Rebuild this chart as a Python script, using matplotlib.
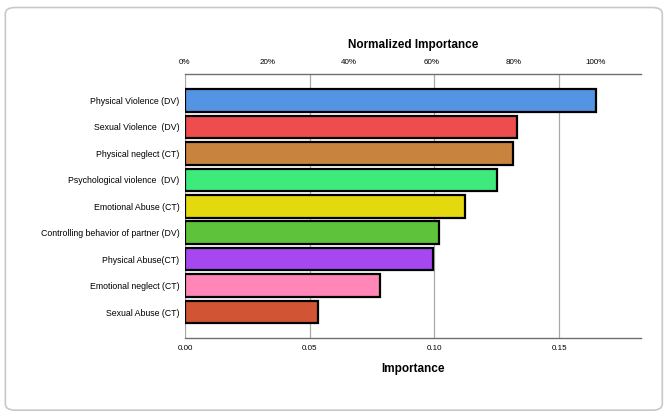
import matplotlib
matplotlib.use("Agg")
import matplotlib.pyplot as plt
from matplotlib.patches import FancyBboxPatch

categories = ["Physical Violence (DV)", "Sexual Violence  (DV)", "Physical neglect (CT)",
              "Psychological violence  (DV)", "Emotional Abuse (CT)",
              "Controlling behavior of partner (DV)", "Physical Abuse(CT)",
              "Emotional neglect (CT)", "Sexual Abuse (CT)"]
importance = [0.1647, 0.1332, 0.1315, 0.1251, 0.1124, 0.1019, 0.0995, 0.0781, 0.0532]
colors = ["#5394E3", "#EF4C4E", "#C8843E", "#3EEA7C", "#E4D80E", "#5EC23A",
          "#A747F0", "#FF86B7", "#D15535"]
bottom_ticks = [0.00, 0.05, 0.10, 0.15]
top_ticks = [0, 20, 40, 60, 80, 100]

plt.rcParams['font.family'] = ['Liberation Sans', 'DejaVu Sans']

fig = plt.figure(figsize=(6.69, 4.16), dpi=100)
border = FancyBboxPatch((0.008, 0.014), 0.982, 0.968, boxstyle="round,pad=0,rounding_size=0.015",
                        transform=fig.transFigure, facecolor="white", edgecolor="#c8c8c8",
                        linewidth=1.2, zorder=-5)
fig.patches.append(border)

ax = fig.add_axes([0.2765, 0.1875, 0.6815, 0.6346])
ax.set_facecolor("none")
y = list(range(len(categories)))
ax.barh(y, importance, height=0.85, color=colors, edgecolor="black", linewidth=1.6, zorder=3)
ax.set_ylim(len(categories) - 0.02, -1.0)
ax.set_xlim(0, 0.1828)
ax.set_yticks(y)
ax.set_yticklabels(categories, fontsize=6.3)
ax.set_xticks(bottom_ticks)
ax.set_xticklabels([f"{t:.2f}" for t in bottom_ticks], fontsize=5.8)
ax.tick_params(axis="both", length=0, pad=4)
ax.tick_params(axis="x", pad=5)
for t in bottom_ticks:
    ax.axvline(t, color="#a8a8a8", linewidth=0.9, zorder=1)
ax.spines["right"].set_visible(False)
ax.spines["left"].set_visible(False)
for s in ["top", "bottom"]:
    ax.spines[s].set_color("#707070")
    ax.spines[s].set_linewidth(1.0)
ax.set_xlabel("Importance", fontsize=8.5, fontweight="bold", labelpad=8)

vmax = max(importance)
sec = ax.secondary_xaxis("top", functions=(lambda v: v / vmax * 100, lambda p: p * vmax / 100))
sec.set_xticks(top_ticks)
sec.set_xticklabels([f"{t}%" for t in top_ticks], fontsize=5.8)
sec.tick_params(length=0, pad=6)
sec.spines["top"].set_visible(False)
sec.set_xlabel("Normalized Importance", fontsize=8.5, fontweight="bold", labelpad=8)

fig.savefig("out.png", dpi=100)
